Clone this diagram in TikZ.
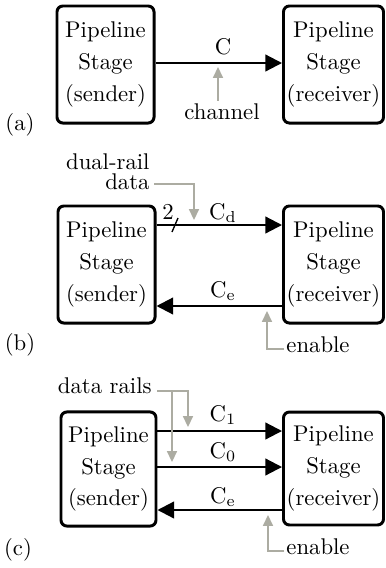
\documentclass[tikz,border=0pt]{standalone}
\usetikzlibrary{arrows.meta,calc}
\definecolor{gline}{RGB}{172,172,162}
\begin{document}
\begin{tikzpicture}[x=0.44pt,y=-0.44pt,
  stagebox/.style={draw,line width=1.3pt,rounded corners=2.6pt,align=center,inner sep=0pt,
    font=\fontsize{10}{13.9}\selectfont},
  sndbox/.style={stagebox,minimum width=42.7pt,minimum height=51.5pt},
  rcvbox/.style={stagebox,minimum width=44pt,minimum height=51.5pt},
  lbl/.style={inner sep=0pt,font=\fontsize{10}{12}\selectfont},
  arr/.style={line width=0.95pt,-{Triangle[length=7.3pt,width=7.3pt]}},
  garr/.style={draw=gline,line width=0.75pt,-{Triangle[length=4.8pt,width=4.4pt]}}]
\useasboundingbox (0,0) rectangle (385,568);

% ---------- (a)
\node[sndbox] (s1) at (105.5,64.5) {Pipeline\\Stage\\(sender)};
\node[rcvbox] (r1) at (333.5,64.5) {Pipeline\\Stage\\(receiver)};
\coordinate (ya) at (0,63);
\draw[arr] (s1.east |- ya) -- (r1.west |- ya);
\node[lbl] (lc) at (223,47) {C};
\node[lbl] (chan) at (222,112) {channel};
\coordinate (tch) at (218,67);
\draw[garr] ($(chan.north -| tch)+(0,-3)$) -- (tch);
\node[lbl] (la) at (20,125) {(a)};

% ---------- (b)
\node[sndbox] (s2) at (106.5,264.5) {Pipeline\\Stage\\(sender)};
\node[rcvbox] (r2) at (333.5,264.5) {Pipeline\\Stage\\(receiver)};
\coordinate (ybd) at (0,225);
\coordinate (ybe) at (0,306);
\draw[arr] (s2.east |- ybd) -- (r2.west |- ybd);
\draw[arr] (r2.west |- ybe) -- (s2.east |- ybe);
\node[lbl] (lcd) at (223,213) {$\mathrm{C_d}$};
\node[lbl] (lce2) at (223,291) {$\mathrm{C_e}$};
\node[lbl] (two) at (168,212) {2};
\draw[line width=0.6pt] (172,232) -- (178,218);
\node[lbl,anchor=east] (dr1) at (150,162) {dual-rail};
\node[lbl,anchor=east] (dr2) at (150,182) {data};
\coordinate (tdd) at (194,220);
\draw[garr] ($(dr2.east)+(4,2)$) -| (tdd);
\node[lbl,anchor=base west] (en2) at (286,352) {enable};
\coordinate (ce2) at (267,349);
\coordinate (te2) at (267,311);
\draw[garr] ($(en2.west |- ce2)+(-2,0)$) -- (ce2) -- (te2);
\node[lbl] (lb) at (20,345) {(b)};

% ---------- (c)
\node[sndbox,minimum width=41.8pt,minimum height=50.2pt] (s3) at (108.5,469) {Pipeline\\Stage\\(sender)};
\node[rcvbox,minimum height=49.7pt] (r3) at (333.5,468.5) {Pipeline\\Stage\\(receiver)};
\coordinate (yc1) at (0,431);
\coordinate (yc0) at (0,467);
\coordinate (yce) at (0,510);
\draw[arr] (s3.east |- yc1) -- (r3.west |- yc1);
\draw[arr] (s3.east |- yc0) -- (r3.west |- yc0);
\draw[arr] (r3.west |- yce) -- (s3.east |- yce);
\node[lbl] (lc1) at (223,415) {$\mathrm{C_1}$};
\node[lbl] (lc0) at (223,452) {$\mathrm{C_0}$};
\node[lbl] (lce3) at (223,497) {$\mathrm{C_e}$};
\node[lbl,anchor=base east] (dr3) at (152,393) {data rails};
\coordinate (j3) at (172,391);
\coordinate (t31) at (188,427);
\coordinate (t32) at (172,462);
\draw[garr] ($(dr3.east |- j3)+(5,0)$) -| (t31);
\draw[garr] (j3) -- (t32);
\node[lbl,anchor=base west] (en3) at (286,554) {enable};
\coordinate (ce3) at (268,551);
\coordinate (te3) at (268,515);
\draw[garr] ($(en3.west |- ce3)+(-2,0)$) -- (ce3) -- (te3);
\node[lbl] (lcc) at (18,550) {(c)};
\end{tikzpicture}
\end{document}
